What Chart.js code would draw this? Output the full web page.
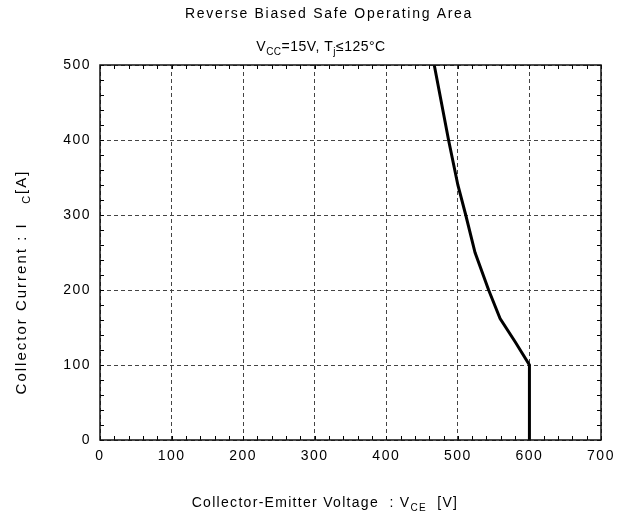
<!DOCTYPE html>
<html>
<head>
<meta charset="utf-8">
<script src="https://cdn.jsdelivr.net/npm/chart.js@4/dist/chart.umd.min.js"></script>
<style>
  html, body { margin: 0; padding: 0; background: #fff; }
  #wrap { width: 634px; height: 521px; position: relative; }
</style>
</head>
<body>
<div id="wrap"><canvas id="c" width="634" height="521"></canvas></div>
<script>
// RBSOA boundary: collector-emitter voltage [V] vs collector current [A]
const voltage = [467, 487, 500, 511, 524, 543, 559, 580, 600, 600];
const current = [500, 400, 340, 300, 250, 200, 162, 131, 100, 0];

const xTicks = [0, 100, 200, 300, 400, 500, 600, 700];
const yTicks = [0, 100, 200, 300, 400, 500];

const titleText = 'Reverse Biased Safe Operating Area';
const subtitleRuns = [['V'], ['CC', 'sub'], ['=15V, T'], ['j', 'sub'], ['\u2264125\u00B0C']];
const xTitleRuns = [['Collector-Emitter Voltage  : V'], ['CE', 'sub'], ['  [V]']];
const yTitleRuns = [['Collector Current : I   '], ['C', 'sub'], ['[A]']];

const FONT = '"Liberation Sans", Arial, Helvetica, sans-serif';

// Draw a line of text made of normal and subscript runs, centred on (cx, cy)
function drawRuns(ctx, runs, cx, cy, size, spacing, angle) {
  ctx.save();
  ctx.translate(cx, cy);
  if (angle) ctx.rotate(angle);
  ctx.letterSpacing = spacing + 'px';
  ctx.textBaseline = 'middle';
  ctx.textAlign = 'left';
  ctx.fillStyle = '#000';
  const subSize = Math.round(size * 0.72);
  let total = 0;
  const widths = runs.map(r => {
    ctx.font = (r[1] === 'sub' ? subSize : size) + 'px ' + FONT;
    const w = ctx.measureText(r[0]).width;
    total += w;
    return w;
  });
  let x = -total / 2;
  runs.forEach((r, i) => {
    const sub = r[1] === 'sub';
    ctx.font = (sub ? subSize : size) + 'px ' + FONT;
    ctx.fillText(r[0], x, sub ? size * 0.35 : 0);
    x += widths[i];
  });
  ctx.restore();
}

const framePlugin = {
  id: 'frame',
  beforeDraw(chart) {
    chart.ctx.letterSpacing = '1.5px';
  },
  afterDraw(chart) {
    const ctx = chart.ctx;
    const a = chart.chartArea;
    const xs = chart.scales.x, ys = chart.scales.y;
    ctx.save();
    ctx.letterSpacing = '0px';
    // inward minor ticks on all four sides
    ctx.strokeStyle = '#000';
    ctx.lineWidth = 1;
    ctx.beginPath();
    for (let v = 0; v <= 700; v += 20) {
      const px = Math.round(xs.getPixelForValue(v)) + 0.5;
      ctx.moveTo(px, a.bottom); ctx.lineTo(px, a.bottom - 4);
      ctx.moveTo(px, a.top); ctx.lineTo(px, a.top + 4);
    }
    for (let v = 0; v <= 500; v += 20) {
      const py = Math.round(ys.getPixelForValue(v)) + 0.5;
      ctx.moveTo(a.left, py); ctx.lineTo(a.left + 4, py);
      ctx.moveTo(a.right, py); ctx.lineTo(a.right - 4, py);
    }
    ctx.stroke();
    // plot frame
    ctx.lineWidth = 1.5;
    ctx.strokeStyle = '#111';
    ctx.strokeRect(a.left, a.top, a.right - a.left, a.bottom - a.top);
    ctx.restore();

    // titles
    drawRuns(ctx, [[titleText]], 329, 14, 14, 1.7, 0);
    drawRuns(ctx, subtitleRuns, 321, 47, 14, 0.5, 0);
    drawRuns(ctx, xTitleRuns, 325, 503, 14, 1.3, 0);
    drawRuns(ctx, yTitleRuns, 22, 282, 15, 2.0, -Math.PI / 2);
  }
};

new Chart(document.getElementById('c'), {
  type: 'scatter',
  data: {
    datasets: [{
      data: voltage.map((v, i) => ({ x: v, y: current[i] })),
      showLine: true,
      borderColor: '#000',
      borderWidth: 3,
      pointRadius: 0,
      tension: 0,
      fill: false
    }]
  },
  options: {
    responsive: false,
    animation: false,
    devicePixelRatio: 1,
    layout: { padding: { left: 0, right: 33, top: 65, bottom: 0 } },
    plugins: { legend: { display: false }, tooltip: { enabled: false } },
    scales: {
      x: {
        type: 'linear', min: 0, max: 700,
        afterBuildTicks(scale) { scale.ticks = xTicks.map(v => ({ value: v })); },
        afterFit(scale) { scale.height = 81; },
        ticks: { color: '#000', font: { family: FONT, size: 14 }, padding: 8, maxRotation: 0 },
        grid: { color: '#444', lineWidth: 1, drawTicks: false },
        border: { display: false, dash: [4, 3] }
      },
      y: {
        type: 'linear', min: 0, max: 500,
        afterBuildTicks(scale) { scale.ticks = yTicks.map(v => ({ value: v })); },
        afterFit(scale) { scale.width = 100; },
        ticks: { color: '#000', font: { family: FONT, size: 14 }, padding: 9 },
        grid: { color: '#444', lineWidth: 1, drawTicks: false },
        border: { display: false, dash: [4, 3] }
      }
    }
  },
  plugins: [framePlugin]
});
</script>
</body>
</html>
